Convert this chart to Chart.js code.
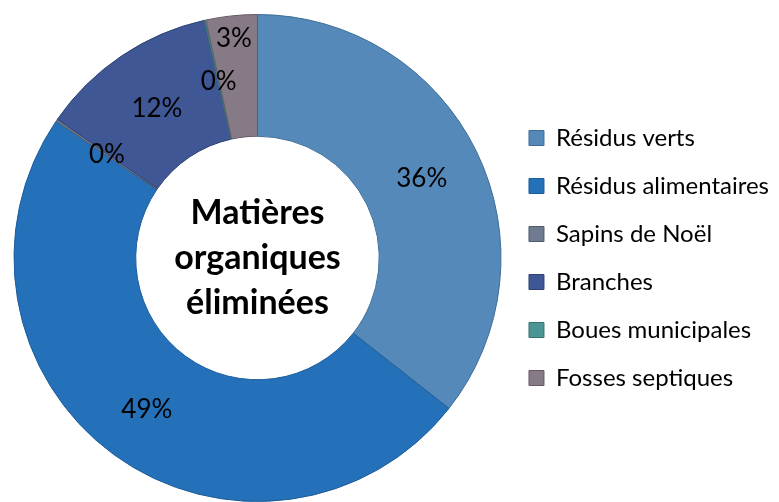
<!DOCTYPE html>
<html>
<head>
<meta charset="utf-8">
<script src="https://cdn.jsdelivr.net/npm/chart.js@4.4.1/dist/chart.umd.min.js"></script>
<style>
  html, body { margin: 0; padding: 0; background: #fff; }
  #wrap { width: 779px; height: 502px; position: relative; }
</style>
</head>
<body>
<div id="wrap"><canvas id="chart"></canvas></div>
<script>
const categories = ['Résidus verts', 'Résidus alimentaires', 'Sapins de Noël', 'Branches', 'Boues municipales', 'Fosses septiques'];
const shares = [35.6, 48.9, 0.15, 11.85, 0.1, 3.4];
const centerTitle = ['Matières', 'organiques', 'éliminées'];

const fills = ['#5589b9', '#2470b9', '#6e7b91', '#3f5795', '#4b9595', '#877a87'];
const edges = ['#3e6d98', '#1d5d9a', '#4f5b6d', '#2f4274', '#357273', '#655a65'];
// where each % label sits across the ring (0 = inner edge, 1 = outer edge)
const labelSpot = [0.5, 0.54, 0.5, 0.48, 0.48, 0.81];

const FONT = 'Lato, "Liberation Sans", sans-serif';

const pctLabels = {
  id: 'pctLabels',
  afterDatasetsDraw(chart) {
    const ctx = chart.ctx;
    const meta = chart.getDatasetMeta(0);
    const total = shares.reduce((a, b) => a + b, 0);
    ctx.save();
    ctx.font = '26px ' + FONT;
    ctx.fillStyle = '#000';
    ctx.textAlign = 'center';
    ctx.textBaseline = 'middle';
    meta.data.forEach((arc, i) => {
      const p = arc.getProps(['x', 'y', 'startAngle', 'endAngle', 'innerRadius', 'outerRadius'], true);
      const mid = (p.startAngle + p.endAngle) / 2;
      const r = p.innerRadius + (p.outerRadius - p.innerRadius) * labelSpot[i];
      const txt = Math.round(shares[i] / total * 100) + '%';
      ctx.fillText(txt, p.x + Math.cos(mid) * r, p.y + Math.sin(mid) * r);
    });
    ctx.restore();
  }
};

const centerText = {
  id: 'centerText',
  afterDraw(chart) {
    const ctx = chart.ctx;
    const arc = chart.getDatasetMeta(0).data[0];
    if (!arc) return;
    ctx.save();
    ctx.font = 'bold 34px ' + FONT;
    ctx.fillStyle = '#000';
    ctx.textAlign = 'center';
    ctx.textBaseline = 'middle';
    centerTitle.forEach((line, i) => {
      ctx.fillText(line, arc.x, arc.y + (i - 1) * 45);
    });
    ctx.restore();
  }
};

new Chart(document.getElementById('chart'), {
  type: 'doughnut',
  data: {
    labels: categories,
    datasets: [{
      data: shares,
      backgroundColor: fills,
      borderColor: edges,
      borderWidth: 1,
      hoverOffset: 0
    }]
  },
  options: {
    responsive: true,
    maintainAspectRatio: false,
    animation: false,
    devicePixelRatio: 1,
    cutout: '50%',
    layout: { padding: { left: 10, top: 14, right: 0, bottom: 0 } },
    plugins: {
      tooltip: { enabled: false },
      legend: {
        position: 'right',
        labels: {
          boxWidth: 15,
          boxHeight: 15,
          padding: 24,
          color: '#000',
          font: { family: FONT, size: 24 }
        }
      }
    }
  },
  plugins: [pctLabels, centerText]
});
</script>
</body>
</html>
